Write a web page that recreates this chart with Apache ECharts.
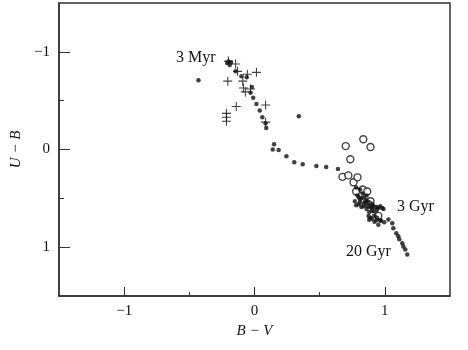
<!DOCTYPE html>
<html>
<head>
<meta charset="utf-8">
<script src="https://cdn.jsdelivr.net/npm/echarts@6/dist/echarts.min.js"></script>
<style>
  body { margin: 0; background: #fff; }
</style>
</head>
<body>
<div id="chart" style="width: 468px; height: 350px"></div>
<script>
// filled dots (B-V, U-B)
const dotBV = [
  -0.43, -0.21, -0.19, -0.18, -0.2, -0.145, -0.10, -0.06, -0.02, -0.03, -0.01, 0.015, 0.04, 0.06, 0.085, 0.09,
  0.34, 0.15, 0.14, 0.185, 0.245, 0.305, 0.37, 0.475, 0.55, 0.64,
  0.78, 0.81, 0.83, 0.80, 0.84, 0.86, 0.81, 0.875, 0.905, 0.78, 0.835, 0.89, 0.935, 0.965, 0.86, 0.905, 0.99,
  0.92, 0.89, 0.935, 0.965, 0.995, 0.95, 0.875, 0.81, 0.77,
  0.79, 0.82, 0.85, 0.87, 0.90, 0.93, 0.80, 0.84, 0.88, 0.95, 0.98, 0.91, 0.86, 0.82,
  0.90, 0.94, 0.97, 0.92, 0.88,
  1.027, 1.057, 1.065, 1.088, 1.103, 1.111, 1.134, 1.142, 1.157, 1.172
];
const dotUB = [
  -0.71, -0.885, -0.865, -0.89, -0.9, -0.80, -0.75, -0.74, -0.64, -0.58, -0.53, -0.465, -0.40, -0.33, -0.27, -0.22,
  -0.34, -0.055, 0.0, 0.005, 0.07, 0.13, 0.15, 0.17, 0.18, 0.20,
  0.39, 0.41, 0.45, 0.49, 0.49, 0.52, 0.54, 0.55, 0.56, 0.57, 0.58, 0.59, 0.59, 0.58, 0.61, 0.63, 0.61,
  0.675, 0.70, 0.725, 0.725, 0.745, 0.77, 0.68, 0.51, 0.53,
  0.47, 0.50, 0.53, 0.57, 0.60, 0.62, 0.56, 0.55, 0.64, 0.60, 0.60, 0.58, 0.47, 0.59,
  0.71, 0.70, 0.73, 0.74, 0.72,
  0.717, 0.756, 0.807, 0.858, 0.889, 0.92, 0.961, 0.992, 1.023, 1.074
];
// crosses
const crossBV = [-0.20, -0.145, -0.13, -0.055, 0.015, -0.205, -0.09, -0.085, -0.07, -0.03, -0.14, -0.215, -0.215, -0.215, 0.085, 0.085];
const crossUB = [-0.905, -0.875, -0.80, -0.77, -0.79, -0.70, -0.70, -0.63, -0.59, -0.62, -0.44, -0.37, -0.33, -0.29, -0.455, -0.28];
// open circles
const ringBV = [0.70, 0.835, 0.89, 0.735, 0.675, 0.72, 0.76, 0.79, 0.78, 0.83, 0.865, 0.89, 0.925, 0.875, 0.95];
const ringUB = [-0.035, -0.105, -0.025, 0.10, 0.28, 0.265, 0.335, 0.285, 0.43, 0.41, 0.43, 0.53, 0.61, 0.56, 0.68];

const majorTicks = [-1, 0, 1];
const minorTicks = [-0.5, 0.5];

const zip = (a, b) => a.map((v, i) => [v, b[i]]);
const serif = "Liberation Serif";
const minus = (v) => String(v).replace("-", "\u2212");
const axisColor = "#333";

const chart = echarts.init(document.getElementById("chart"));

const mainX = {
  type: "value",
  min: -1.5,
  max: 1.5,
  name: "B \u2212 V",
  nameLocation: "middle",
  nameGap: 22,
  nameTextStyle: { fontFamily: serif, fontStyle: "italic", fontSize: 15, color: "#111" },
  axisLine: { onZero: false, lineStyle: { color: axisColor, width: 1.5 } },
  axisTick: { inside: true, length: 9, customValues: majorTicks, lineStyle: { color: axisColor } },
  axisLabel: { customValues: majorTicks, formatter: minus, fontFamily: serif, fontSize: 15, color: "#111", margin: 8 },
  splitLine: { show: false },
};
const mainY = {
  type: "value",
  min: -1.5,
  max: 1.5,
  inverse: true,
  name: "U \u2212 B",
  nameLocation: "middle",
  nameGap: 29,
  nameRotate: 90,
  nameTextStyle: { fontFamily: serif, fontStyle: "italic", fontSize: 15, color: "#111" },
  axisLine: { onZero: false, lineStyle: { color: axisColor, width: 1.5 } },
  axisTick: { inside: true, length: 11, customValues: majorTicks, lineStyle: { color: axisColor } },
  axisLabel: { customValues: majorTicks, formatter: minus, fontFamily: serif, fontSize: 15, color: "#111", margin: 9 },
  splitLine: { show: false },
};
// second pair of axes only for the short ticks at +-0.5
const minorX = {
  type: "value",
  min: -1.5,
  max: 1.5,
  position: "bottom",
  axisLine: { show: false, onZero: false },
  axisTick: { inside: true, length: 4, customValues: minorTicks, lineStyle: { color: axisColor } },
  axisLabel: { show: false },
  splitLine: { show: false },
};
const minorY = {
  type: "value",
  min: -1.5,
  max: 1.5,
  inverse: true,
  position: "left",
  axisLine: { show: false, onZero: false },
  axisTick: { inside: true, length: 5, customValues: minorTicks, lineStyle: { color: axisColor } },
  axisLabel: { show: false },
  splitLine: { show: false },
};

const option = {
  animation: false,
  backgroundColor: "#fff",
  grid: {
    left: 59,
    right: 18,
    top: 3,
    bottom: 54,
    show: true,
    borderColor: axisColor,
    borderWidth: 1.5,
  },
  xAxis: [mainX, minorX],
  yAxis: [mainY, minorY],
  series: [
    {
      type: "scatter",
      name: "open",
      symbol: "circle",
      symbolSize: 7,
      itemStyle: { color: "#fff", borderColor: "#111", borderWidth: 1.4 },
      data: zip(ringBV, ringUB),
    },
    {
      type: "scatter",
      name: "cross",
      symbol: "path://M0,4.4L10,4.4L10,5.6L0,5.6ZM4.4,0L5.6,0L5.6,10L4.4,10Z",
      symbolSize: 9,
      itemStyle: { color: "#111" },
      data: zip(crossBV, crossUB),
    },
    {
      type: "scatter",
      name: "dots",
      symbol: "circle",
      symbolSize: 4.5,
      itemStyle: { color: "#111" },
      data: zip(dotBV, dotUB),
    },
  ],
  graphic: [
    { type: "text", left: 176, top: 50, style: { text: "3 Myr", font: "16px " + serif, fill: "#111" } },
    { type: "text", left: 397, top: 199, style: { text: "3 Gyr", font: "16px " + serif, fill: "#111" } },
    { type: "text", left: 346, top: 244, style: { text: "20 Gyr", font: "16px " + serif, fill: "#111" } },
  ],
};
chart.setOption(option);
</script>
</body>
</html>
